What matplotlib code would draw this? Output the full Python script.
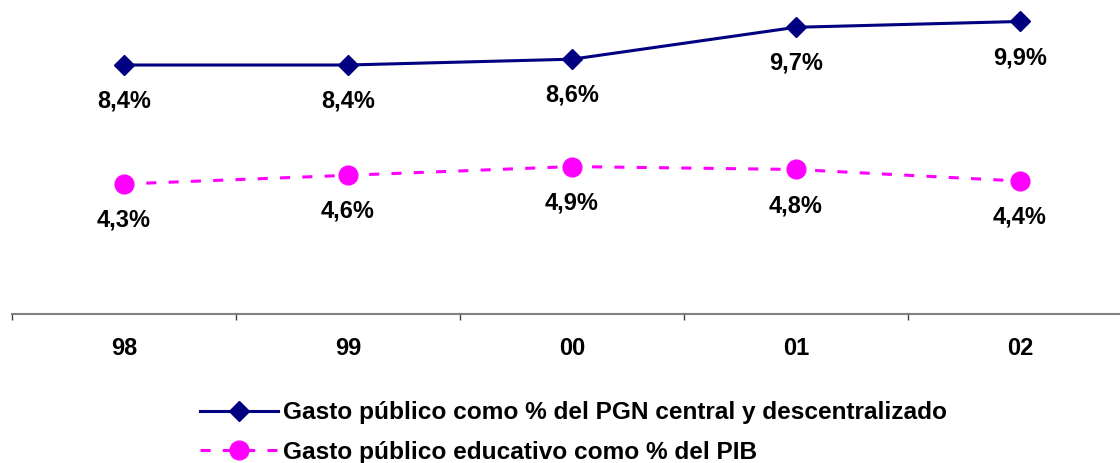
import matplotlib.pyplot as plt
import numpy as np

plt.rcParams['font.family'] = ['Liberation Sans', 'DejaVu Sans']

# Datos
anios = ['98', '99', '00', '01', '02']
gasto_pgn = [8.4, 8.4, 8.6, 9.7, 9.9]
gasto_pib = [4.3, 4.6, 4.9, 4.8, 4.4]

azul = '#000080'
magenta = '#FF00FF'

fig = plt.figure(figsize=(11.2, 4.63), dpi=100)
ax = fig.add_axes([12 / 1120, 1 - 313.7 / 463, 1, 313.7 / 463])

x = np.arange(len(anios))
ax.plot(x, gasto_pgn, color=azul, lw=2.2, marker='D', ms=10,
        label='Gasto público como % del PGN central y descentralizado')
ax.plot(x, gasto_pib, color=magenta, lw=2.2, ls=(0, (3.3, 4)), marker='o', ms=13.5,
        label='Gasto público educativo como % del PIB')

# Etiquetas de valores
for serie in (gasto_pgn, gasto_pib):
    for xi, v in zip(x, serie):
        ax.annotate('{:.1f}%'.format(v).replace('.', ','), (xi, v),
                    xytext=(0, -26), textcoords='offset points',
                    ha='center', va='center', fontsize=17, fontweight='bold')

ax.set_xlim(-0.5, 4.5)
ax.set_ylim(-0.17, 10.64)

for lado in ['top', 'right', 'left']:
    ax.spines[lado].set_visible(False)
ax.spines['bottom'].set_color('#808080')
ax.spines['bottom'].set_linewidth(1.5)
ax.set_yticks([])

ax.set_xticks(x)
ax.set_xticklabels(anios, fontsize=17, fontweight='bold')
ax.tick_params(axis='x', which='major', length=0, pad=17)
ax.set_xticks(np.arange(-0.5, 5, 1), minor=True)
ax.tick_params(axis='x', which='minor', length=4, width=1, color='#404040')

ax.legend(loc='center left', bbox_to_anchor=(200 / 1120, 1 - 432.5 / 463),
          bbox_transform=fig.transFigure, frameon=False,
          prop={'size': 17.6, 'weight': 'bold'}, handlelength=3.2,
          handletextpad=0.2, labelspacing=0.69, borderpad=0, borderaxespad=0)

plt.savefig('out.png', dpi=100)
